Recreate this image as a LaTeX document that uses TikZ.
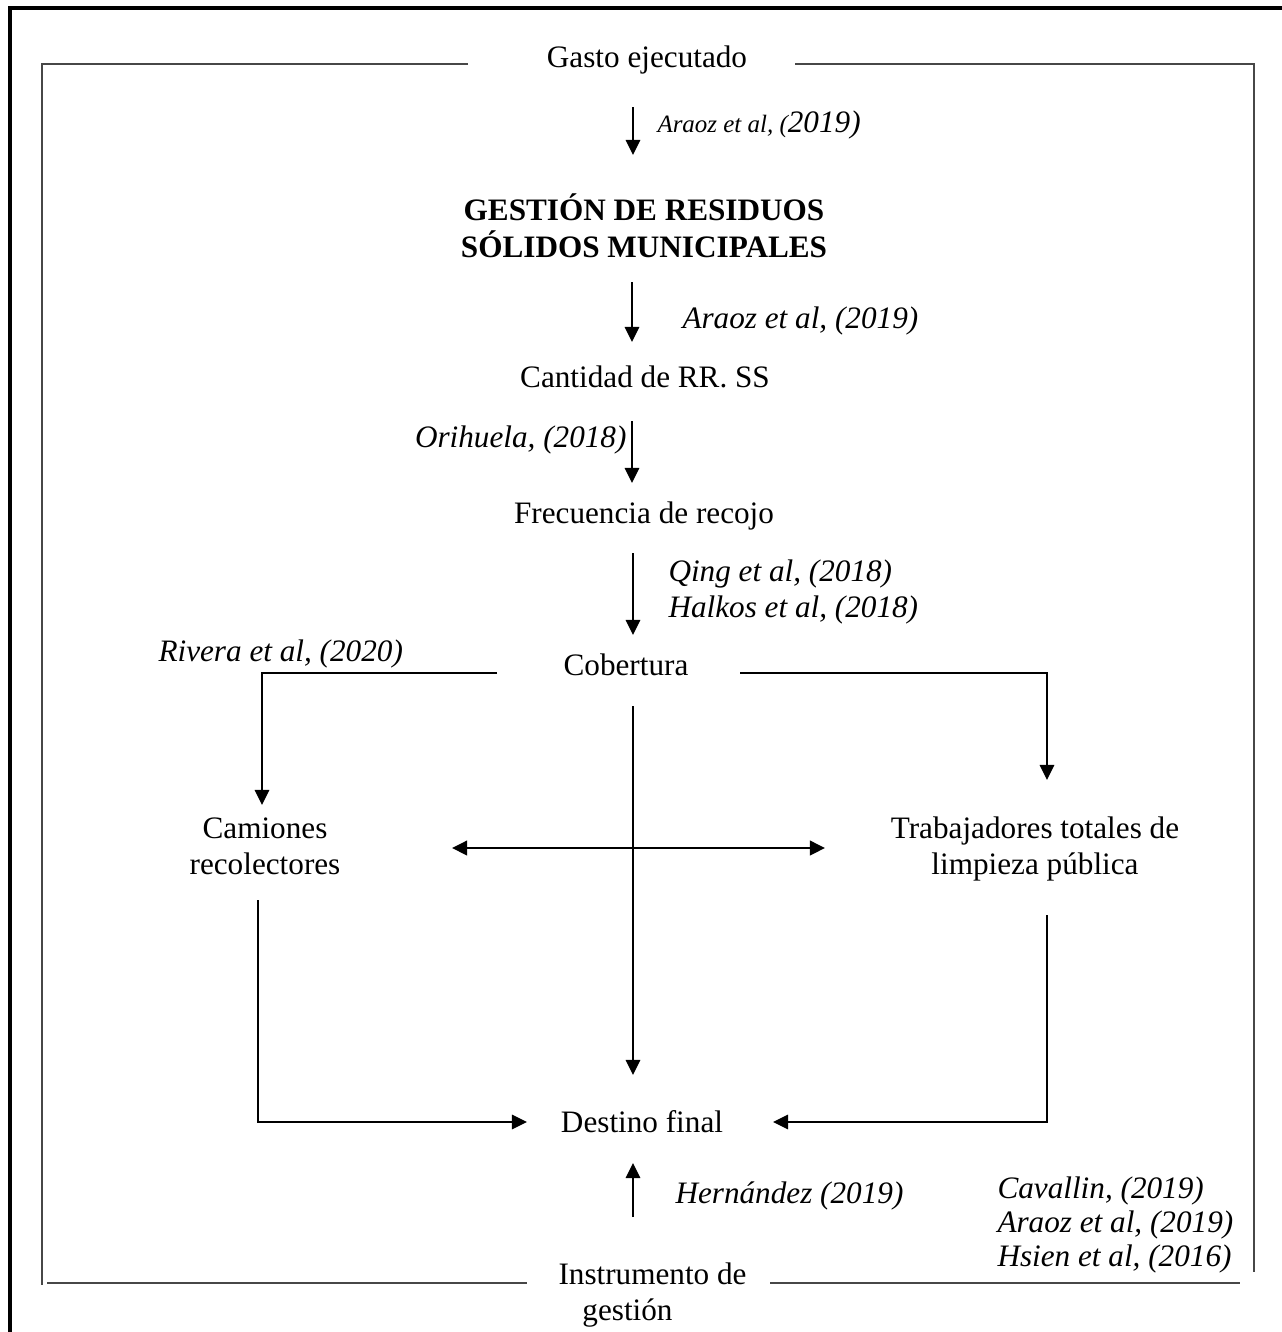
\documentclass[tikz,border=0pt]{standalone}
\usepackage{fontspec}
\setmainfont{Liberation Serif}
\usetikzlibrary{arrows.meta}
\begin{document}
\begin{tikzpicture}[x=0.3846pt,y=-0.3846pt,
  txt/.style={inner sep=0pt, anchor=base, font=\fontsize{12}{14.2}\selectfont},
  citew/.style={inner sep=0pt, anchor=base west, font=\fontsize{12}{14.2}\selectfont\itshape},
  cite/.style={inner sep=0pt, anchor=base east, font=\fontsize{12}{14.2}\selectfont\itshape},
  arr/.style={line width=0.55pt, -{Triangle[width=5.6pt,length=5.8pt]}},
  dbl/.style={line width=0.8pt, {Triangle[width=5.6pt,length=5.8pt]}-{Triangle[width=5.6pt,length=5.8pt]}},
  ln/.style={line width=0.55pt},
  frm/.style={line width=0.8pt, draw=black!72},
  outer/.style={line width=1.2pt, draw=black},
]
\useasboundingbox (0,0) rectangle (1282,1332);
% outer border (right and bottom sides lie outside the picture)
\draw[outer] (10,1345) -- (10,8) -- (1295,8);
% inner frame
\draw[frm] (468,64) -- (42,64) -- (42,1285);
\draw[frm] (795,64) -- (1254,64) -- (1254,1272);
\draw[frm] (47,1283) -- (527,1283);
\draw[frm] (770,1283) -- (1240,1283);

% nodes
\node[txt] (gasto) at (647,67) {Gasto ejecutado};
\node[citew] (c1) at (657,132) {{\fontsize{9.6}{11}\selectfont Araoz et al, (}2019)};
\node[txt, font=\fontsize{12}{14.2}\selectfont\bfseries] (gestion) at (644,220)
  {\begin{tabular}[t]{@{}c@{}}GESTIÓN DE RESIDUOS\\SÓLIDOS MUNICIPALES\end{tabular}};
\node[citew] (c2) at (682,328) {Araoz et al, (2019)};
\node[txt] (cantidad) at (645,387) {Cantidad de RR. SS};
\node[cite] (c3) at (627,447) {Orihuela, (2018)};
\node[txt] (frecuencia) at (644,523) {Frecuencia de recojo};
\node[citew] (c4) at (668,581) {Qing et al, (2018)};
\node[citew] (c5) at (668,617) {Halkos et al, (2018)};
\node[txt] (cobertura) at (626,675) {Cobertura};
\node[citew] (c6) at (158,661) {Rivera et al, (2020)};
\node[txt] (camiones) at (265,838)
  {\begin{tabular}[t]{@{}c@{}}Camiones\\recolectores\end{tabular}};
\node[txt] (trabajadores) at (1035,838)
  {\begin{tabular}[t]{@{}c@{}}Trabajadores totales de\\limpieza pública\end{tabular}};
\node[txt] (destino) at (642,1132) {Destino final};
\node[citew] (c7) at (675,1203) {Hernández (2019)};
\node[citew, font=\fontsize{12}{13.1}\selectfont\itshape] (c8) at (997,1198)
  {\begin{tabular}[t]{@{}l@{}}Cavallin, (2019)\\Araoz et al, (2019)\\Hsien et al, (2016)\end{tabular}};
\node[txt, anchor=base west] (instrumento) at (558,1284)
  {\begin{tabular}[t]{@{}l@{}}Instrumento de\\\hspace*{9.2pt}gestión\end{tabular}};

% connector end points
\coordinate (a1s) at (633,107);  \coordinate (a1e) at (633,155);
\coordinate (a2s) at (632,282);  \coordinate (a2e) at (632,342);
\coordinate (a3s) at (632,421);  \coordinate (a3e) at (632,483);
\coordinate (a4s) at (633,553);  \coordinate (a4e) at (633,635);
\coordinate (bl) at (497,673);   \coordinate (blc) at (262,673); \coordinate (ble) at (262,805);
\coordinate (br) at (740,673);   \coordinate (brc) at (1047,673); \coordinate (bre) at (1047,780);
\coordinate (cs) at (633,706);   \coordinate (ce) at (633,1075);
\coordinate (hl) at (452,848);   \coordinate (hr) at (825,848);
\coordinate (ls) at (258,900);   \coordinate (lc) at (258,1122); \coordinate (le) at (527,1122);
\coordinate (rs) at (1047,915);  \coordinate (rc) at (1047,1122); \coordinate (re) at (773,1122);
\coordinate (us) at (633,1217);  \coordinate (ue) at (633,1163);

\draw[arr] (a1s) -- (a1e);
\draw[arr] (a2s) -- (a2e);
\draw[arr] (a3s) -- (a3e);
\draw[arr] (a4s) -- (a4e);
\draw[arr] (bl) -- (blc) -- (ble);
\draw[arr] (br) -- (brc) -- (bre);
\draw[arr] (cs) -- (ce);
\draw[dbl] (hl) -- (hr);
\draw[arr] (ls) -- (lc) -- (le);
\draw[arr] (rs) -- (rc) -- (re);
\draw[arr] (us) -- (ue);
\end{tikzpicture}
\end{document}
